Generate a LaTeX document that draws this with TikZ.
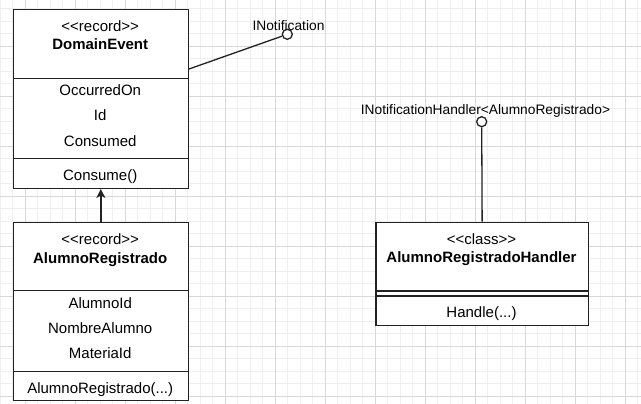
\documentclass[tikz,border=0pt]{standalone}
\usepackage{fontspec}
\setmainfont{Liberation Sans}
\usetikzlibrary{arrows.meta}
\definecolor{gridmajor}{HTML}{D8D8D8}
\definecolor{gridminor}{HTML}{EFEFEF}
\definecolor{umlline}{HTML}{222222}
\tikzset{
  cbox/.style={draw=umlline, line width=1.3pt, fill=white, inner sep=0pt, anchor=north west},
  txt/.style={font=\fontsize{15}{18}\selectfont, inner sep=0pt, anchor=base},
  btxt/.style={font=\fontsize{15}{18}\selectfont\bfseries, inner sep=0pt, anchor=base},
  ltxt/.style={font=\fontsize{13.75}{16}\selectfont, inner sep=0pt, anchor=base},
  lolli/.style={circle, draw=umlline, line width=1.3pt, fill=white, minimum size=10pt, inner sep=0pt},
  conn/.style={draw=umlline, line width=1.3pt},
}
\begin{document}
\begin{tikzpicture}[x=1pt,y=-1pt]
\useasboundingbox (0,0) rectangle (641,404);
\fill[white] (0,0) rectangle (641,404);
% grid
\foreach \i in {0,...,52} {
  \draw[gridminor, line width=0.9pt] ({0.3+12.5*\i},0) -- ({0.3+12.5*\i},404);
}
\foreach \i in {0,...,33} {
  \draw[gridminor, line width=0.9pt] (0,{-3.7+12.5*\i}) -- (641,{-3.7+12.5*\i});
}
\foreach \i in {0,...,12} {
  \draw[gridmajor, line width=0.9pt] ({25.3+50*\i},0) -- ({25.3+50*\i},404);
}
\foreach \i in {0,...,7} {
  \draw[gridmajor, line width=0.9pt] (0,{46.3+50*\i}) -- (641,{46.3+50*\i});
}

% DomainEvent
\node[cbox, minimum width=175pt, minimum height=68.7pt] (deH) at (12.7,9) {};
\node[cbox, minimum width=175pt, minimum height=80pt] (deA) at (12.7,77.7) {};
\node[cbox, minimum width=175pt, minimum height=30pt] (deM) at (12.7,157.7) {};
\node[txt] (deS) at (100.2,31.8) {<{}<record>{}>};
\node[btxt] (deN) at (100.2,50) {DomainEvent};
\node[txt] (de1) at (100.2,96) {OccurredOn};
\node[txt] (de2) at (100.2,121) {Id};
\node[txt] (de3) at (100.2,146.3) {Consumed};
\node[txt] (de4) at (100.2,181) {Consume()};

% AlumnoRegistrado
\node[cbox, minimum width=175pt, minimum height=68pt] (arH) at (12.7,221.7) {};
\node[cbox, minimum width=175pt, minimum height=81pt] (arA) at (12.7,289.7) {};
\node[cbox, minimum width=175pt, minimum height=29.3pt] (arM) at (12.7,370.7) {};
\node[txt] (arS) at (100.2,244.6) {<{}<record>{}>};
\node[btxt] (arN) at (100.2,263) {AlumnoRegistrado};
\node[txt] (ar1) at (100.2,308.6) {AlumnoId};
\node[txt] (ar2) at (100.2,333) {NombreAlumno};
\node[txt] (ar3) at (100.2,358) {MateriaId};
\node[txt] (ar4) at (100.2,393.6) {AlumnoRegistrado(...)};

% AlumnoRegistradoHandler
\node[cbox, minimum width=212.4pt, minimum height=68.6pt] (hH) at (375.3,221.7) {};
\node[cbox, minimum width=212.4pt, minimum height=5pt] (hA) at (375.3,290.3) {};
\node[cbox, minimum width=212.4pt, minimum height=29.7pt] (hM) at (375.3,295.3) {};
\node[txt] (hS) at (481.5,244.3) {<{}<class>{}>};
\node[btxt] (hN) at (481.5,262) {AlumnoRegistradoHandler};
\node[txt] (h1) at (481.5,317.6) {Handle(...)};

% lollipops
\node[lolli] (l1) at (287.3,34.3) {};
\node[ltxt] (l1t) at (288.5,31) {INotification};
\node[lolli] (l2) at (481.7,121.7) {};
\node[ltxt] (l2t) at (485.5,114) {INotificationHandler<AlumnoRegistrado>};

\path[conn] ([yshift=10pt]deH.south east) -- (l1);
\path[conn] (l2) -- (hH.north);
\draw[conn, -{Stealth[length=9pt,width=9pt,inset=2.5pt]}] (arH.north) -- (deM.south);
\end{tikzpicture}
\end{document}
